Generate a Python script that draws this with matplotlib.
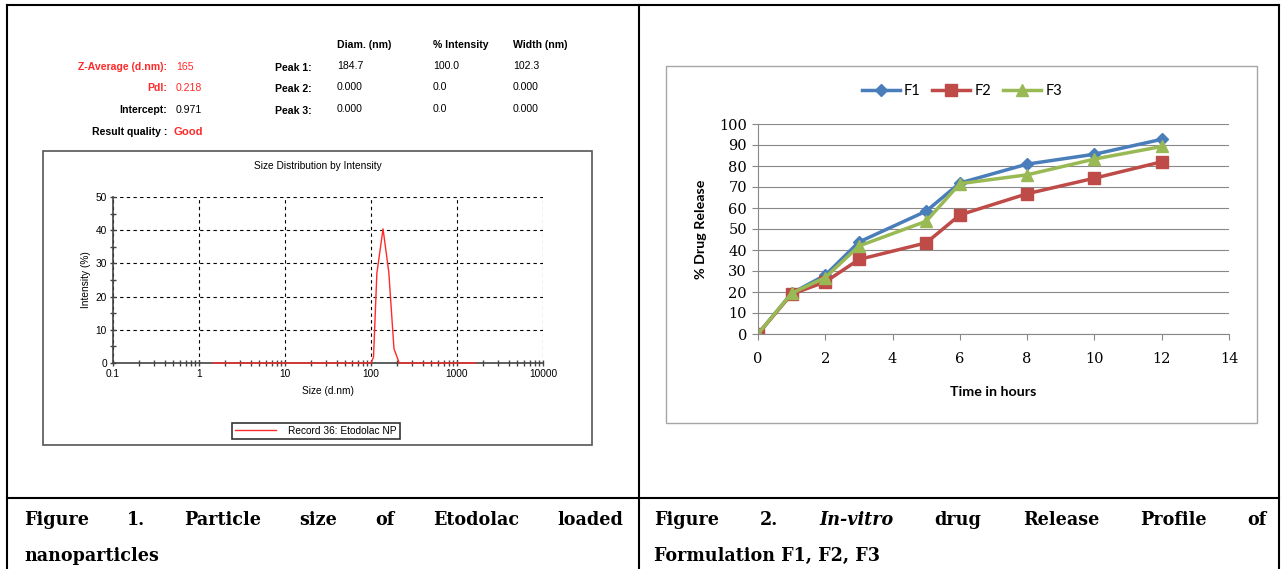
import numpy as np
import matplotlib.pyplot as plt
from matplotlib.lines import Line2D
from matplotlib.patches import Rectangle
from matplotlib.ticker import LogLocator, MultipleLocator, FixedLocator

# data: size distribution (Figure 1)
size_nm = [1.45, 100, 107, 117, 138, 161, 185, 213, 1660]
intensity = [0, 0, 1.8, 27, 40.4, 27.4, 4.3, 0, 0]

# data: release profile (Figure 2)
time_h = [0, 1, 2, 3, 5, 6, 8, 10, 12]
f1 = [0, 19.4, 28, 43.8, 58.5, 71.9, 80.9, 85.6, 92.7]
f2 = [0, 19, 24.8, 35.5, 43.4, 56.7, 66.8, 74.2, 82]
f3 = [0, 19.4, 26.9, 41.9, 53.7, 71.6, 75.8, 83.3, 89.3]

W, H = 1281, 569
fig = plt.figure(figsize=(W / 100, H / 100), dpi=100)


def fx(x):
    return x / W


def fy(y):
    return 1 - y / H


def box(l, t, r, b):
    return [fx(l), fy(b), fx(r) - fx(l), fy(t) - fy(b)]


def hline(x0, x1, y, lw=1.5, c='black'):
    fig.add_artist(Line2D([fx(x0), fx(x1)], [fy(y), fy(y)], transform=fig.transFigure, color=c, lw=lw))


def vline(x, y0, y1, lw=1.5, c='black'):
    fig.add_artist(Line2D([fx(x), fx(x)], [fy(y0), fy(y1)], transform=fig.transFigure, color=c, lw=lw))


# table borders
hline(7, 1279, 5)
hline(7, 1279, 498)
vline(7, 5, 569)
vline(1279, 5, 569)
vline(639, 5, 569)

# ---------- Figure 1 text block ----------
sans = 'Liberation Sans'
red = '#ff2a2a'
fs = 7.6
rows_y = [67, 88, 110, 132]
left_lab = ['Z-Average (d.nm):', 'PdI:', 'Intercept:', 'Result quality :']
left_val = ['165', '0.218', '0.971', 'Good']
lab_col = [red, red, 'black', 'black']
val_col = [red, red, 'black', red]
for i in range(4):
    fig.text(fx(167), fy(rows_y[i]), left_lab[i], ha='right', va='center', fontsize=fs,
             family=sans, weight='bold', color=lab_col[i])
    fig.text(fx(176 if i < 3 else 173), fy(rows_y[i]), left_val[i], ha='left', va='center', fontsize=fs + (0.5 if i == 3 else 0),
             family=sans, weight='bold' if i == 3 else 'normal', color=val_col[i])

headers = ['Diam. (nm)', '% Intensity', 'Width (nm)']
col_x = [337, 433, 513]
peak_rows = [['184.7', '100.0', '102.3'], ['0.000', '0.0', '0.000'], ['0.000', '0.0', '0.000']]
for h, x in zip(headers, col_x):
    fig.text(fx(x), fy(45), h, ha='left', va='center', fontsize=fs, family=sans, weight='bold')
for i, row in enumerate(peak_rows):
    y = rows_y[i]
    fig.text(fx(312), fy(y + 1), f'Peak {i + 1}:', ha='right', va='center', fontsize=fs, family=sans, weight='bold')
    for v, x in zip(row, col_x):
        fig.text(fx(x), fy(y - 1), v, ha='left', va='center', fontsize=fs, family=sans)

# chart frame
fig.add_artist(Rectangle((fx(43), fy(445)), fx(592) - fx(43), fy(151) - fy(445), transform=fig.transFigure,
                         fill=False, edgecolor='#555555', lw=1.2))
fig.text(fx(318), fy(166), 'Size Distribution by Intensity', ha='center', va='center', fontsize=7.3, family=sans)

ax1 = fig.add_axes(box(113, 197, 543, 363))
ax1.plot(size_nm, intensity, color=red, lw=1, label='Record 36: Etodolac NP', zorder=4, clip_on=False)
ax1.set_xscale('log')
ax1.set_xlim(0.1, 10000)
ax1.set_ylim(0, 50)
ax1.xaxis.set_major_locator(FixedLocator([0.1, 1, 10, 100, 1000, 10000]))
ax1.xaxis.set_minor_locator(LogLocator(base=10, subs=np.arange(2, 10)))
ax1.set_xticklabels(['0.1', '1', '10', '100', '1000', '10000'])
ax1.xaxis.set_minor_formatter(plt.NullFormatter())
ax1.yaxis.set_major_locator(MultipleLocator(10))
ax1.yaxis.set_minor_locator(MultipleLocator(5))
for s in ['top', 'right']:
    ax1.spines[s].set_visible(False)
for s in ['left', 'bottom']:
    ax1.spines[s].set_color('#444444')
    ax1.spines[s].set_linewidth(1.2)
ax1.grid(True, which='major', color='black', linestyle=(0, (3, 3)), lw=0.8)
ax1.set_axisbelow(True)
ax1.tick_params(which='both', direction='inout', color='#444444', labelsize=7.3, pad=2)
ax1.tick_params(which='major', length=5, width=1)
ax1.tick_params(which='minor', length=4, width=1)
for lab in ax1.get_xticklabels() + ax1.get_yticklabels():
    lab.set_family(sans)
ax1.set_xlabel('Size (d.nm)', fontsize=7.3, family=sans, labelpad=5)
ax1.set_ylabel('Intensity (%)', fontsize=7.3, family=sans, labelpad=3)
fig.legend(loc='center', bbox_to_anchor=(fx(316), fy(431)), frameon=True, fancybox=False,
           edgecolor='black', prop={'family': sans, 'size': 7.3}, handlelength=4,
           borderpad=0.3, handletextpad=1.2).get_frame().set_linewidth(1.2)

# ---------- Figure 2 chart ----------
fig.add_artist(Rectangle((fx(666), fy(423)), fx(1257) - fx(666), fy(66) - fy(423), transform=fig.transFigure,
                         fill=False, edgecolor='#a6a6a6', lw=1))
ax2 = fig.add_axes(box(758, 124, 1229, 334))
ax2.plot(time_h, f1, color='#4a7ebb', lw=2.5, marker='D', ms=6, label='F1')
ax2.plot(time_h, f2, color='#be4b48', lw=2.5, marker='s', ms=8, label='F2')
ax2.plot(time_h, f3, color='#98b954', lw=2.5, marker='^', ms=8, label='F3')
ax2.set_xlim(0, 14)
ax2.set_ylim(0, 100)
ax2.set_xticks(range(0, 15, 2))
ax2.set_yticks(range(0, 101, 10))
ax2.grid(True, axis='y', color='#888888', lw=0.8)
ax2.set_axisbelow(True)
for s in ['top', 'right']:
    ax2.spines[s].set_visible(False)
for s in ['left', 'bottom']:
    ax2.spines[s].set_color('#888888')
    ax2.spines[s].set_linewidth(0.8)
ax2.tick_params(color='#888888', length=4, labelsize=10.5, pad=9)
ax2.tick_params(axis='y', pad=4)
for lab in ax2.get_xticklabels() + ax2.get_yticklabels():
    lab.set_family('DejaVu Serif')
ax2.set_xlabel('Time in hours', fontsize=10.3, family='Lato', weight='bold', labelpad=14)
ax2.set_ylabel('% Drug Release', fontsize=10.3, family='Lato', weight='bold', labelpad=9)
ax2.legend(loc='center', bbox_to_anchor=(fx(962), fy(91)), bbox_transform=fig.transFigure, ncol=3,
           frameon=False, prop={'family': 'Lato', 'size': 10.5}, handlelength=2.6, handletextpad=0.3,
           columnspacing=0.8)

# ---------- captions ----------
cap = dict(fontsize=14, family='DejaVu Serif', stretch='condensed', weight='bold', va='center')


def justify(words, x0, x1, y):
    texts = [fig.text(0, fy(y), w, style=st, **cap) for w, st in words]
    fig.canvas.draw()
    r = fig.canvas.get_renderer()
    widths = [t.get_window_extent(r).width for t in texts]
    gap = (x1 - x0 - sum(widths)) / (len(words) - 1)
    x = x0
    for t, w in zip(texts, widths):
        t.set_x(fx(x))
        x += w + gap


n = 'normal'
justify([('Figure', n), ('1.', n), ('Particle', n), ('size', n), ('of', n), ('Etodolac', n), ('loaded', n)], 24, 623, 520)
fig.text(fx(24), fy(556), 'nanoparticles', **cap)
justify([('Figure', n), ('2.', n), ('In-vitro', 'italic'), ('drug', n), ('Release', n), ('Profile', n), ('of', n)], 654, 1267, 520)
fig.text(fx(654), fy(556), 'Formulation F1, F2, F3', **cap)

fig.savefig('out.png', dpi=100)
